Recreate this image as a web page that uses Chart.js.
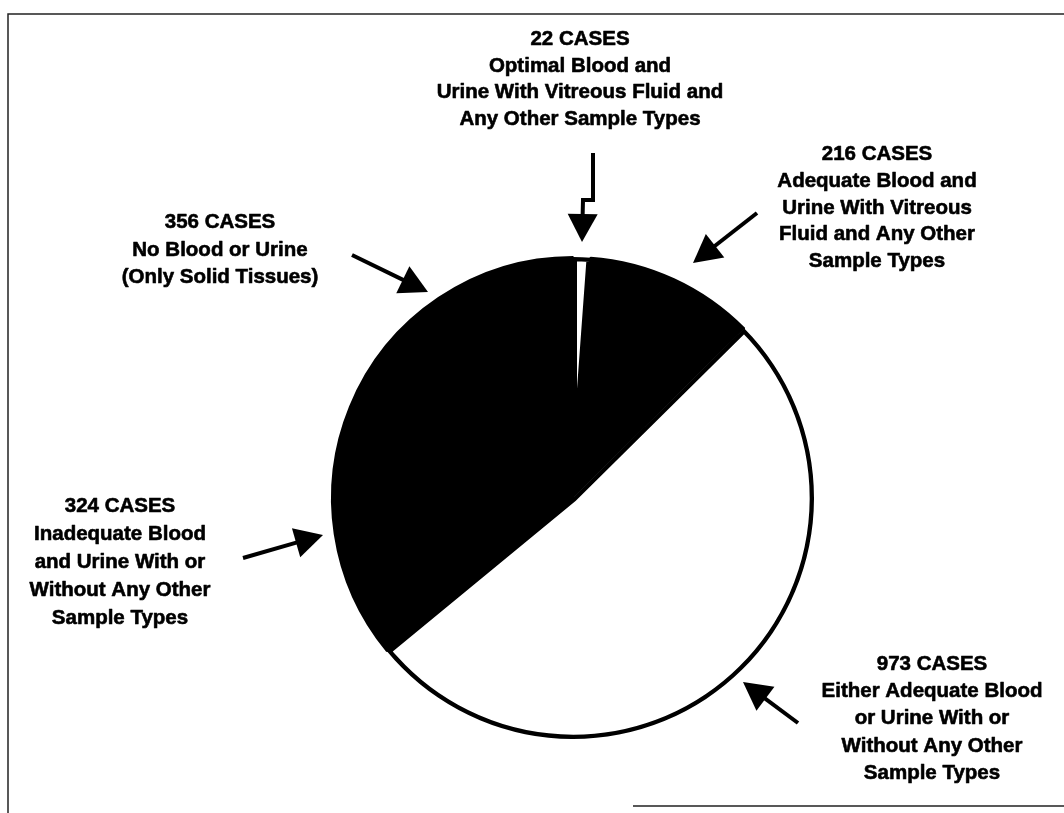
<!DOCTYPE html>
<html>
<head>
<meta charset="utf-8">
<script src="https://cdn.jsdelivr.net/npm/chart.js@4.4.1/dist/chart.umd.min.js"></script>
<style>
  html, body { margin: 0; padding: 0; background: #fff; }
  #wrap { position: relative; width: 1064px; height: 813px; }
</style>
</head>
<body>
<div id="wrap"><canvas id="c" width="1064" height="813"></canvas></div>
<script>
// ---- data ----
const categories = [
  "Optimal Blood and Urine With Vitreous Fluid and Any Other Sample Types",
  "Adequate Blood and Urine With Vitreous Fluid and Any Other Sample Types",
  "Either Adequate Blood or Urine With or Without Any Other Sample Types",
  "Inadequate Blood and Urine With or Without Any Other Sample Types",
  "No Blood or Urine (Only Solid Tissues)"
];
const caseCounts = [22, 216, 973, 324, 356];
const sliceColors = ["#ffffff", "#000000", "#ffffff", "#000000", "#000000"];
const labelLines = [
  ["22 CASES", "Optimal Blood and", "Urine With Vitreous Fluid and", "Any Other Sample Types"],
  ["216 CASES", "Adequate Blood and", "Urine With Vitreous", "Fluid and Any Other", "Sample Types"],
  ["973 CASES", "Either Adequate Blood", "or Urine With or", "Without Any Other", "Sample Types"],
  ["324 CASES", "Inadequate Blood", "and Urine With or", "Without Any Other", "Sample Types"],
  ["356 CASES", "No Blood or Urine", "(Only Solid Tissues)"]
];

// ---- layout (offsets relative to pie centre, px) ----
const labelLayout = [
  { dx: 7,    dy: -453, step: 26.7 },
  { dx: 304,  dy: -338, step: 26.8 },
  { dx: 359,  dy: 172,  step: 27.2 },
  { dx: -453, dy: 14,   step: 28 },
  { dx: -353, dy: -270, step: 27.5 }
];
// arrow polylines: last point is the tip
const arrowLayout = [
  [[20, -345], [20, -298], [10, -298], [9, -256]],
  [[184, -285], [120, -235]],
  [[225, 225], [170, 184]],
  [[-330, 60], [-250, 37]],
  [[-221, -243], [-145, -206]]
];

const annotPlugin = {
  id: "annot",
  afterDraw(chart) {
    const ctx = chart.ctx;
    const arc = chart.getDatasetMeta(0).data[0];
    const cx = arc.x, cy = arc.y;
    ctx.save();
    // frame
    ctx.strokeStyle = "#222";
    ctx.lineWidth = 1.5;
    ctx.beginPath();
    ctx.moveTo(8, 813); ctx.lineTo(8, 14); ctx.lineTo(1064, 14);
    ctx.moveTo(633, 806); ctx.lineTo(1064, 806);
    ctx.stroke();

    // labels
    ctx.fillStyle = "#000";
    ctx.strokeStyle = "#000";
    ctx.lineWidth = 0.6;
    ctx.lineJoin = "round";
    ctx.font = "bold 20.5px 'Liberation Sans', Arial, sans-serif";
    ctx.textAlign = "center";
    ctx.textBaseline = "alphabetic";
    labelLines.forEach((lines, i) => {
      const L = labelLayout[i];
      lines.forEach((t, k) => {
        ctx.fillText(t, cx + L.dx, cy + L.dy + k * L.step);
        ctx.strokeText(t, cx + L.dx, cy + L.dy + k * L.step);
      });
    });

    // arrows
    ctx.strokeStyle = "#000";
    ctx.lineWidth = 4;
    ctx.lineJoin = "miter";
    arrowLayout.forEach(pts => {
      const P = pts.map(p => [cx + p[0], cy + p[1]]);
      const tip = P[P.length - 1], prev = P[P.length - 2];
      const ang = Math.atan2(tip[1] - prev[1], tip[0] - prev[0]);
      const hl = 28, hw = 15;
      const bx = tip[0] - hl * Math.cos(ang), by = tip[1] - hl * Math.sin(ang);
      ctx.beginPath();
      ctx.moveTo(P[0][0], P[0][1]);
      for (let k = 1; k < P.length - 1; k++) ctx.lineTo(P[k][0], P[k][1]);
      ctx.lineTo(bx + Math.cos(ang) * 2, by + Math.sin(ang) * 2);
      ctx.stroke();
      ctx.beginPath();
      ctx.moveTo(tip[0], tip[1]);
      ctx.lineTo(bx + hw * Math.sin(ang), by - hw * Math.cos(ang));
      ctx.lineTo(bx - hw * Math.sin(ang), by + hw * Math.cos(ang));
      ctx.closePath();
      ctx.fill();
    });
    ctx.restore();
  }
};

new Chart(document.getElementById("c"), {
  type: "pie",
  data: {
    labels: categories,
    datasets: [{
      data: caseCounts,
      backgroundColor: sliceColors,
      borderColor: "#000",
      borderWidth: [4, 2, 4, 2, 2],
      borderAlign: ["inner", "center", "inner", "center", "center"],
      hoverOffset: 0,
      hoverBorderWidth: 0
    }]
  },
  options: {
    responsive: false,
    animation: false,
    events: [],
    layout: { padding: { left: 331, right: 249, top: 256, bottom: 73 } },
    plugins: { legend: { display: false }, tooltip: { enabled: false } }
  },
  plugins: [annotPlugin]
});
</script>
</body>
</html>
